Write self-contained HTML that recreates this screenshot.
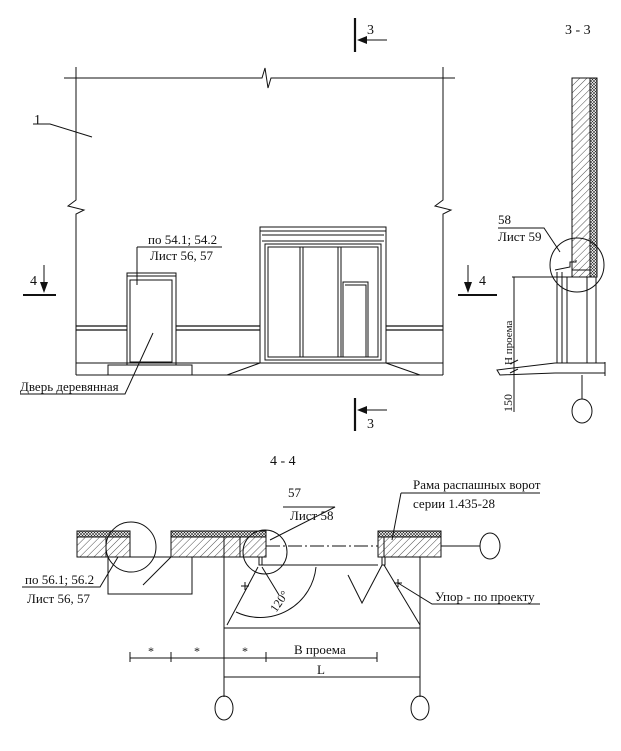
<!DOCTYPE html>
<html><head><meta charset="utf-8"><style>
html,body{margin:0;padding:0;background:#fff}
svg{display:block}
text{font-family:"Liberation Serif",serif;fill:#111}
</style></head><body>
<svg width="621" height="751" viewBox="0 0 621 751" xmlns="http://www.w3.org/2000/svg">
<defs>
<pattern id="h" width="5" height="5" patternUnits="userSpaceOnUse" patternTransform="rotate(45)"><line x1="0" y1="0" x2="0" y2="5" stroke="#222" stroke-width="0.8"/></pattern>
<pattern id="x" width="3" height="3" patternUnits="userSpaceOnUse"><path d="M0 0L3 3M3 0L0 3" stroke="#222" stroke-width="0.6"/></pattern>
</defs>
<g fill="none" stroke="#111" stroke-width="1">
<path d="M64 78H262L265 68L268 88L271 78H455"/>
<path d="M76 67V200L68 206L84 210L76 214V375"/>
<path d="M443 67V200L435 206L451 210L443 214V375"/>
<path d="M76 326H127M176 326H260M386 326H443M76 330H127M176 330H260M386 330H443" stroke-width="1.3"/>
<path d="M76 363H443M76 375H443" />
<path d="M227 375L260 363M386 363L420 375"/>
<rect x="127" y="273" width="49" height="92"/>
<rect x="130" y="280" width="42" height="82"/>
<path d="M127 276H176"/>
<rect x="108" y="365" width="84" height="10"/>
<path d="M137 247V285M137 247H222"/>
<rect x="260" y="227" width="126" height="136"/>
<path d="M260 231H386M262 235H384M262 241H384"/>
<rect x="265" y="244" width="116" height="116"/>
<rect x="268" y="247" width="110" height="110"/>
<path d="M300 247V357M303 247V357M338 247V357M341 247V357"/>
<rect x="343" y="282" width="25" height="75"/>
<path d="M345 285H366V357"/>
<path d="M33 124H50L92 137"/>
<path d="M20 394H125L153 333"/>
<path d="M23 295H56M458 295H497" stroke-width="2"/>
<path d="M44 265V290M468 265V290"/>
<path d="M355 18V52M355 398V431" stroke-width="2.2"/>
<path d="M387 40H360M387 410H360"/>
</g>
<path d="M44 293L40 282L48 282Z M468 293L464 282L472 282Z M357 40L367 36L367 44Z M357 410L367 406L367 414Z" fill="#111"/>
<text x="34" y="124" font-size="14">1</text>
<text x="148" y="244" font-size="13">по 54.1; 54.2</text>
<text x="150" y="260" font-size="13">Лист 56, 57</text>
<text x="20" y="391" font-size="13">Дверь деревянная</text>
<text x="30" y="285" font-size="14">4</text>
<text x="479" y="285" font-size="14">4</text>
<text x="367" y="34" font-size="14">3</text>
<text x="367" y="428" font-size="14">3</text>
<text x="565" y="34" font-size="14">3 - 3</text>

<rect x="572" y="78" width="18" height="199" fill="url(#h)" stroke="#111"/>
<rect x="590" y="78" width="7" height="199" fill="url(#x)" stroke="#111"/>
<g fill="none" stroke="#111" stroke-width="1">
<ellipse cx="577" cy="265" rx="27" ry="27"/>
<path d="M498 228H544L560 252"/>
<path d="M512 277H572"/>
<path d="M514 277V412"/>
<path d="M557 272V363M562 272V363M567 277V363M587 277V363M596 277V363"/>
<path d="M555 270L570 267V262L576 262V260"/>
<path d="M572 270H590V277"/>
<path d="M555 363H605M555 373H605M605 362V376"/>
<path d="M555 363L497 370L500 375L555 373"/>
<path d="M510 364L518 360M510 373L518 369"/>
<path d="M582 375V399"/>
<ellipse cx="582" cy="411" rx="10" ry="12"/>
</g>
<text x="498" y="224" font-size="13">58</text>
<text x="498" y="241" font-size="13">Лист 59</text>
<text transform="translate(512,365) rotate(-90)" font-size="11">Н проема</text>
<text transform="translate(512,412) rotate(-90)" font-size="12">150</text>

<text x="270" y="465" font-size="14">4 - 4</text>
<g stroke="#111">
<rect x="77" y="531" width="53" height="6" fill="url(#x)"/>
<rect x="77" y="537" width="53" height="20" fill="url(#h)"/>
<rect x="171" y="531" width="95" height="6" fill="url(#x)"/>
<rect x="171" y="537" width="95" height="20" fill="url(#h)"/>
<rect x="378" y="531" width="63" height="6" fill="url(#x)"/>
<rect x="378" y="537" width="63" height="20" fill="url(#h)"/>
</g>
<g fill="none" stroke="#111" stroke-width="1">
<path d="M106 537V557M224 537V557M240 537V557M384 537V557"/>
<path d="M130 557H171"/>
<ellipse cx="131" cy="547" rx="25" ry="25"/>
<ellipse cx="265" cy="552" rx="22" ry="22"/>
<path d="M266 546H378" stroke-dasharray="14 3 2 3"/>
<path d="M441 546H480"/>
<ellipse cx="490" cy="546" rx="10" ry="13"/>
<rect x="259" y="557" width="3" height="8"/>
<rect x="382" y="557" width="3" height="8"/>
<path d="M262 565H378"/>
<path d="M224 557V697M420 557V697"/>
<ellipse cx="224" cy="708" rx="9" ry="12"/>
<ellipse cx="420" cy="708" rx="9" ry="12"/>
<path d="M224 628H420"/>
<path d="M258 567L227 625M262 567L279 595"/>
<path d="M316 567A56 56 0 0 1 236 612"/>
<path d="M384 565L420 625M382 565L362 603L348 575"/>
<path d="M283 507H335L270 540"/>
<path d="M401 493H540M401 493L392 540"/>
<path d="M540 604H432L398 583"/>
<path d="M22 587H100L118 557"/>
<path d="M108 557V594H192V557M143 585L171 557"/>
<path d="M130 652V662M171 652V662M224 652V662M266 652V662M377 652V662M130 658H377"/>
<path d="M224 672V682M420 672V682M224 677H420"/>
<path d="M241 586h8M245 582v8M394 583h8M398 579v8"/>
</g>
<text x="288" y="497" font-size="13">57</text>
<text x="290" y="520" font-size="13">Лист 58</text>
<text x="413" y="489" font-size="13">Рама распашных ворот</text>
<text x="413" y="508" font-size="13">серии 1.435-28</text>
<text x="435" y="601" font-size="13">Упор - по проекту</text>
<text x="25" y="584" font-size="13">по 56.1; 56.2</text>
<text x="27" y="603" font-size="13">Лист 56, 57</text>
<text transform="translate(276,613) rotate(-55)" font-size="12">120°</text>
<text x="148" y="655" font-size="12">*</text>
<text x="194" y="655" font-size="12">*</text>
<text x="242" y="655" font-size="12">*</text>
<text x="294" y="654" font-size="13">В проема</text>
<text x="317" y="674" font-size="13">L</text>
</svg>
</body></html>
